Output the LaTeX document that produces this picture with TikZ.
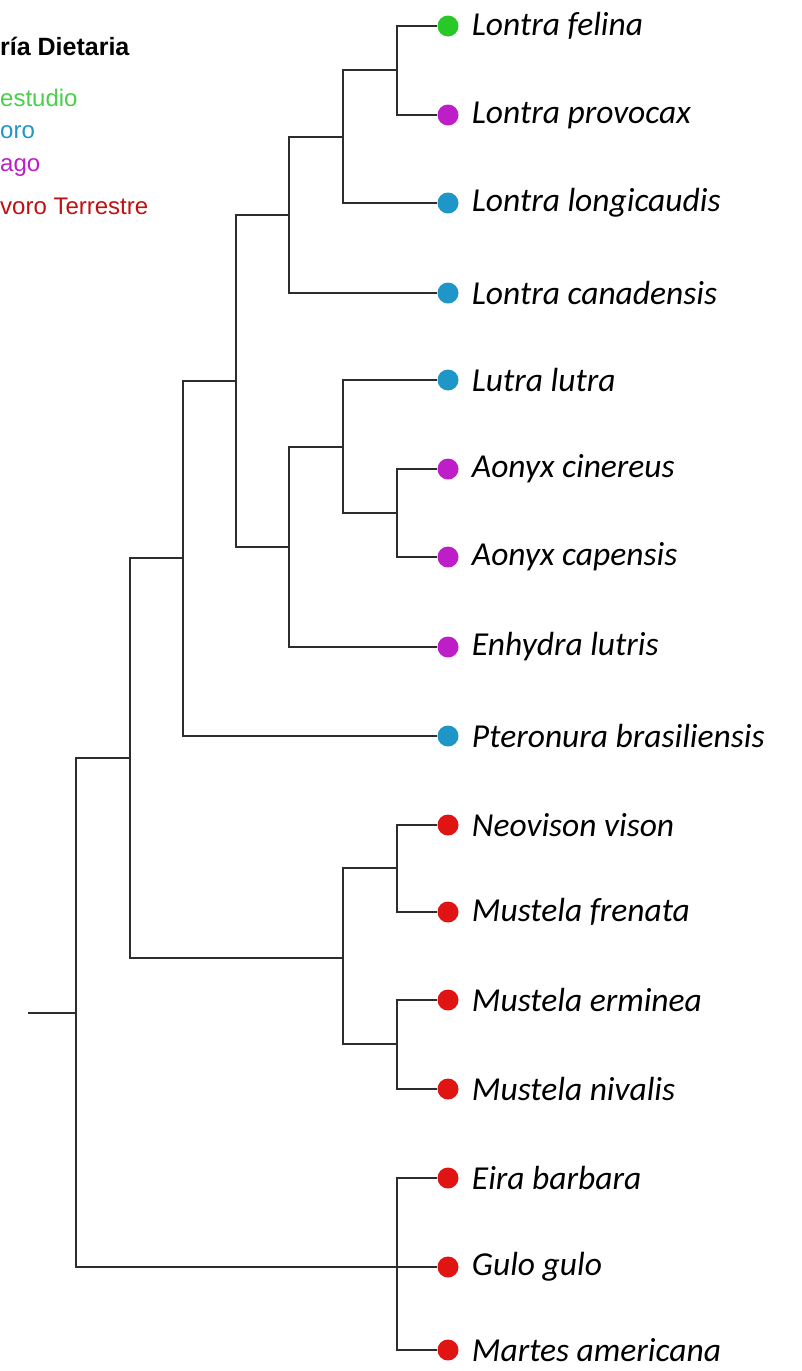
\documentclass[tikz,border=0pt]{standalone}
\usepackage{fontspec}
\setmainfont{Carlito}
\newfontfamily\legendfont{Liberation Sans}
\definecolor{cgreen}{RGB}{40,200,40}
\definecolor{cblue}{RGB}{30,150,200}
\definecolor{cpurple}{RGB}{190,30,200}
\definecolor{cred}{RGB}{225,20,20}
\definecolor{branch}{RGB}{45,45,45}
\begin{document}
\begin{tikzpicture}[
                    x=1pt, y=-1pt,
                    branch/.style={draw=branch, line width=2pt},
                    dot/.style={circle, inner sep=0pt, minimum size=21pt},
                    taxon/.style={font=\fontsize{33.5}{36}\selectfont\itshape, inner sep=0pt, text=black},
                    legend/.style={font=\legendfont\fontsize{24}{27}\selectfont, anchor=west, inner sep=0pt}
                ]
                \useasboundingbox (0,0) rectangle (802,1371);

                % legend
                \node[legend, font=\legendfont\bfseries\fontsize{25}{28}\selectfont] (ltitle) at (0,46) {ría Dietaria};
                \node[legend, text=cgreen!85!white]  (lgreen)  at (0,98)  {estudio};
                \node[legend, text=cblue]   (lblue)   at (0,132) {oro};
                \node[legend, text=cpurple] (lpurple) at (0,168) {ago};
                \node[legend, text=cred!85!black] (lred) at (0,206) {voro Terrestre};

                % tips
                \node[dot, fill=cgreen,  label={[taxon, label distance=13pt]right:Lontra felina}]          (t1)  at (448,26)   {};
                \node[dot, fill=cpurple, label={[taxon, label distance=13pt]right:Lontra provocax}]       (t2)  at (448,115)  {};
                \node[dot, fill=cblue,   label={[taxon, label distance=13pt]right:Lontra longicaudis}]    (t3)  at (448,203)  {};
                \node[dot, fill=cblue,   label={[taxon, label distance=13pt]right:Lontra canadensis}]     (t4)  at (448,293)  {};
                \node[dot, fill=cblue,   label={[taxon, label distance=13pt]right:Lutra lutra}]           (t5)  at (448,380)  {};
                \node[dot, fill=cpurple, label={[taxon, label distance=13pt]right:Aonyx cinereus}]        (t6)  at (448,469)  {};
                \node[dot, fill=cpurple, label={[taxon, label distance=13pt]right:Aonyx capensis}]        (t7)  at (448,557)  {};
                \node[dot, fill=cpurple, label={[taxon, label distance=13pt]right:Enhydra lutris}]        (t8)  at (448,647)  {};
                \node[dot, fill=cblue,   label={[taxon, label distance=13pt]right:Pteronura brasiliensis}] (t9) at (448,736)  {};
                \node[dot, fill=cred,    label={[taxon, label distance=13pt]right:Neovison vison}]        (t10) at (448,825)  {};
                \node[dot, fill=cred,    label={[taxon, label distance=13pt]right:Mustela frenata}]       (t11) at (448,912)  {};
                \node[dot, fill=cred,    label={[taxon, label distance=13pt]right:Mustela erminea}]       (t12) at (448,1000) {};
                \node[dot, fill=cred,    label={[taxon, label distance=13pt]right:Mustela nivalis}]       (t13) at (448,1089) {};
                \node[dot, fill=cred,    label={[taxon, label distance=13pt]right:Eira barbara}]          (t14) at (448,1178) {};
                \node[dot, fill=cred,    label={[taxon, label distance=13pt]right:Gulo gulo}]             (t15) at (448,1267) {};
                \node[dot, fill=cred,    label={[taxon, label distance=13pt]right:Martes americana}]      (t16) at (448,1350) {};

                % internal nodes
                \coordinate (n1)  at (397,70);
                \coordinate (n2)  at (343,137);
                \coordinate (n3)  at (289,215);
                \coordinate (n4)  at (397,513);
                \coordinate (n5)  at (343,447);
                \coordinate (n6)  at (289,547);
                \coordinate (n7)  at (236,381);
                \coordinate (n8)  at (183,558);
                \coordinate (n9)  at (397,868);
                \coordinate (n10) at (397,1044);
                \coordinate (n11) at (343,958);
                \coordinate (n12) at (130,758);
                \coordinate (n13) at (397,1267);
                \coordinate (root) at (76,1013);
                \coordinate (stem) at (28,1013);

                % branches
                \draw[branch] (n1) |- (t1);  \draw[branch] (n1) |- (t2);
                \draw[branch] (n2) |- (n1);  \draw[branch] (n2) |- (t3);
                \draw[branch] (n3) |- (n2);  \draw[branch] (n3) |- (t4);
                \draw[branch] (n4) |- (t6);  \draw[branch] (n4) |- (t7);
                \draw[branch] (n5) |- (t5);  \draw[branch] (n5) |- (n4);
                \draw[branch] (n6) |- (n5);  \draw[branch] (n6) |- (t8);
                \draw[branch] (n7) |- (n3);  \draw[branch] (n7) |- (n6);
                \draw[branch] (n8) |- (n7);  \draw[branch] (n8) |- (t9);
                \draw[branch] (n9) |- (t10); \draw[branch] (n9) |- (t11);
                \draw[branch] (n10) |- (t12); \draw[branch] (n10) |- (t13);
                \draw[branch] (n11) |- (n9); \draw[branch] (n11) |- (n10);
                \draw[branch] (n12) |- (n8); \draw[branch] (n12) |- (n11);
                \draw[branch] (n13) |- (t14); \draw[branch] (n13) |- (t16);
                \draw[branch] (n13) -- (t15);
                \draw[branch] (root) |- (n12); \draw[branch] (root) |- (n13);
                \draw[branch] (stem) -- (root);

            \end{tikzpicture}
\end{document}
